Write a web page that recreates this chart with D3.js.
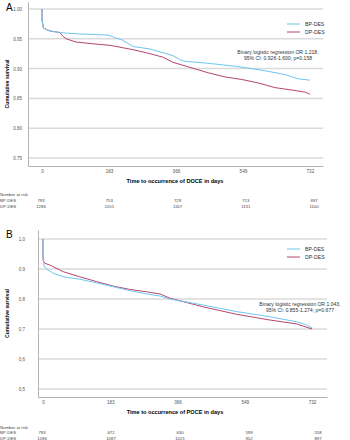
<!DOCTYPE html>
<html>
<head>
<meta charset="utf-8">
<script src="https://cdn.jsdelivr.net/npm/d3@7"></script>
<style>
  body { margin: 0; background: #fff; }
  svg { font-family: "Liberation Sans", Arial, sans-serif; }
</style>
</head>
<body>
<div id="chart"></div>
<script>
// Shared tick values
const dayTicks = [0, 183, 366, 549, 732];
const seriesNames = ["BP-DES", "DP-DES"];

// Panel A (DOCE)
const yTicksA = [0.75, 0.80, 0.85, 0.90, 0.95, 1.00];
const bpA = [[0,1.0],[0,0.982],[4,0.968],[22,0.963],[49,0.9605],[68,0.9595],[104,0.958],[158,0.957],[186,0.9555],[199,0.952],[219,0.948],[249,0.937],[295,0.933],[322,0.928],[358,0.9217],[377,0.915],[391,0.912],[445,0.9095],[527,0.904],[563,0.901],[617,0.8955],[664,0.89],[699,0.883],[732,0.8805]];
const dpA = [[0,1.0],[0,0.982],[4,0.968],[22,0.963],[49,0.9605],[57,0.954],[68,0.9495],[93,0.9445],[137,0.9417],[186,0.939],[249,0.9317],[295,0.925],[331,0.919],[358,0.9105],[410,0.901],[454,0.893],[500,0.886],[546,0.8817],[590,0.876],[637,0.868],[683,0.864],[719,0.8605],[732,0.857]];
const riskBpA = [793, 753, 729, 713, 697];
const riskDpA = [1286, 1201, 1167, 1131, 1100];

// Panel B (POCE)
const yTicksB = [0.5, 0.6, 0.7, 0.8, 0.9, 1.0];
const bpB = [[0,1.0],[0,0.94],[3,0.91],[10,0.899],[28,0.886],[55,0.874],[100,0.866],[146,0.854],[191,0.841],[236,0.828],[282,0.817],[318,0.81],[345,0.80],[435,0.78],[527,0.758],[617,0.741],[690,0.724],[715,0.715],[732,0.704]];
const dpB = [[0,1.0],[0,0.93],[5,0.919],[19,0.913],[55,0.891],[100,0.874],[146,0.858],[191,0.843],[236,0.832],[282,0.824],[318,0.817],[345,0.803],[435,0.774],[527,0.749],[617,0.73],[690,0.717],[732,0.70]];
const riskBpB = [793, 672, 630, 599, 558];
const riskDpB = [1286, 1087, 1021, 952, 897];

const color = d3.scaleOrdinal()
  .domain(seriesNames)
  .range(["#6ec6ef", "#b5476f"]);

const svg = d3.select("#chart")
  .append("svg")
  .attr("width", 350)
  .attr("height", 440);

function drawPanel(p) {
  const x = d3.scaleLinear().domain(p.xDomain).range([p.left, p.right]);
  const y = d3.scaleLinear().domain(p.yDomain).range([p.bottom, p.top]);
  const g = svg.append("g");

  // Gridlines
  g.selectAll(".grid")
    .data(p.yTicks)
    .enter()
    .append("line")
    .attr("x1", p.left)
    .attr("x2", p.right)
    .attr("y1", d => y(d))
    .attr("y2", d => y(d))
    .attr("stroke", "#dadada")
    .attr("stroke-width", 1.5);

  // Y axis
  const yAxis = g.append("g")
    .attr("transform", `translate(${p.left},0)`)
    .call(d3.axisLeft(y).tickValues(p.yTicks).tickSize(0).tickSizeOuter(0)
      .tickPadding(p.yPad).tickFormat(p.yFormat));
  yAxis.select(".domain").attr("stroke", "#b3b3b3");
  yAxis.selectAll("text").style("font-size", "4.5px").attr("fill", "#555");

  // X axis
  const xAxis = g.append("g")
    .attr("transform", `translate(0,${p.bottom})`)
    .call(d3.axisBottom(x).tickValues(dayTicks).tickSize(0).tickSizeOuter(0).tickPadding(3.5));
  xAxis.select(".domain").attr("stroke", "#b3b3b3");
  xAxis.selectAll("text").style("font-size", "4.6px").attr("fill", "#555");

  // Axis titles
  g.append("text")
    .attr("x", 175)
    .attr("y", p.bottom + 17)
    .attr("text-anchor", "middle")
    .style("font-size", "5.6px")
    .style("font-weight", "bold")
    .text(p.xTitle);

  g.append("text")
    .attr("transform", `translate(8.5,${(p.top + p.bottom) / 2}) rotate(-90)`)
    .attr("text-anchor", "middle")
    .style("font-size", "5.2px")
    .style("font-weight", "bold")
    .text("Cumulative survival");

  // Panel letter
  g.append("text")
    .attr("x", 6)
    .attr("y", p.top + p.letterDy)
    .style("font-size", "10px")
    .text(p.letter);

  // Curves
  const line = d3.line().x(d => x(d[0])).y(d => y(d[1]));
  [[p.dp, "DP-DES"], [p.bp, "BP-DES"]].forEach(([data, name]) => {
    g.append("path")
      .datum(data)
      .attr("fill", "none")
      .attr("stroke", color(name))
      .attr("stroke-width", 1)
      .attr("d", line);
  });

  // Legend
  seriesNames.forEach((name, i) => {
    const ly = p.legendY + i * 8;
    g.append("line")
      .attr("x1", 287).attr("x2", 300)
      .attr("y1", ly).attr("y2", ly)
      .attr("stroke", color(name))
      .attr("stroke-width", 1);
    g.append("text")
      .attr("x", 305)
      .attr("y", ly + 1.8)
      .style("font-size", "5.2px")
      .attr("fill", "#333")
      .text(name);
  });

  // Regression note
  p.note.forEach((t, i) => {
    g.append("text")
      .attr("x", p.noteX)
      .attr("y", p.noteY + i * 6.2)
      .attr("text-anchor", "middle")
      .style("font-size", "5.1px")
      .attr("fill", "#333")
      .text(t);
  });

  // Number at risk table
  const xr = d3.scaleLinear().domain([0, 732]).range(p.riskRange);
  g.append("text")
    .attr("x", 0).attr("y", p.riskY)
    .style("font-size", "4.3px").attr("fill", "#444")
    .text("Number at risk");
  [[p.riskBp, "BP-DES"], [p.riskDp, "DP-DES"]].forEach(([vals, name], r) => {
    const ry = p.riskY + p.riskStep * (r + 1);
    g.append("text")
      .attr("x", 0).attr("y", ry)
      .style("font-size", "4.3px").attr("fill", "#444")
      .text(name);
    g.selectAll(".risk" + r)
      .data(vals)
      .enter()
      .append("text")
      .attr("x", (d, i) => xr(dayTicks[i]))
      .attr("y", ry)
      .attr("text-anchor", "middle")
      .style("font-size", "4.3px").attr("fill", "#444")
      .text(d => d);
  });
}

drawPanel({
  letter: "A", letterDy: 9,
  left: 28, right: 323, top: 2, bottom: 166,
  xDomain: [-38.25, 767.8], yDomain: [0.7366, 1.0117],
  yTicks: yTicksA, yPad: 6, yFormat: d3.format(".2f"),
  xTitle: "Time to occurrence of DOCE in days",
  bp: bpA, dp: dpA, legendY: 24,
  note: ["Binary logistic regression OR 1.218,", "95% CI: 0.926-1.600; p=0.158"],
  noteX: 278, noteY: 53.5,
  riskBp: riskBpA, riskDp: riskDpA,
  riskRange: [41, 314], riskY: 196, riskStep: 6.2
});

drawPanel({
  letter: "B", letterDy: 7.5,
  left: 38, right: 327, top: 230, bottom: 397,
  xDomain: [-13.6, 772.8], yDomain: [0.4733, 1.03],
  yTicks: yTicksB, yPad: 13, yFormat: d => d.toFixed(1).replace(".", ","),
  xTitle: "Time to occurrence of POCE in days",
  bp: bpB, dp: dpB, legendY: 249,
  note: ["Binary logistic regression OR 1.043,", "95% CI: 0.855-1.274; p=0.677"],
  noteX: 300, noteY: 306,
  riskBp: riskBpB, riskDp: riskDpB,
  riskRange: [42, 318], riskY: 429, riskStep: 5.3
});
</script>
</body>
</html>
